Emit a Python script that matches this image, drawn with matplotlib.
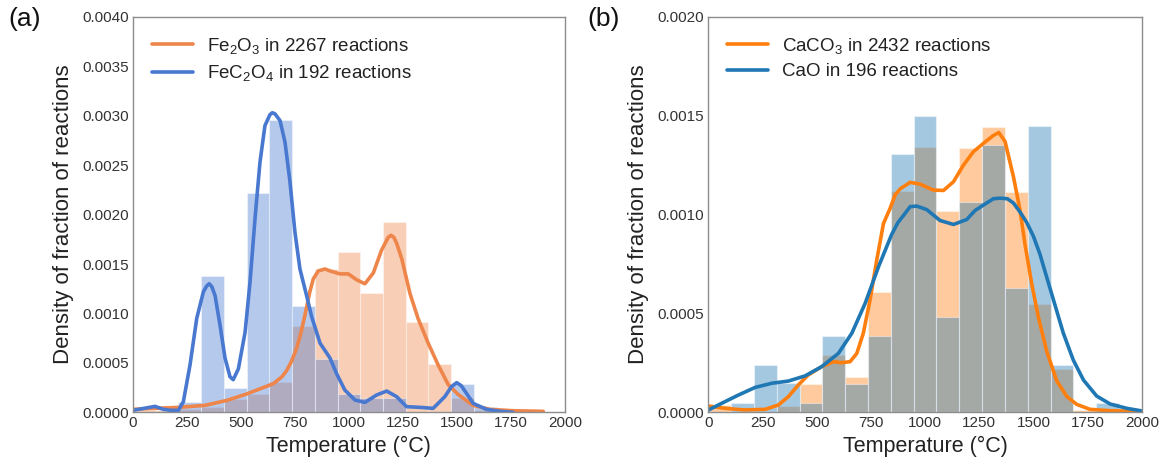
import numpy as np
import matplotlib
matplotlib.use("Agg")
import matplotlib.pyplot as plt

plt.rcParams['font.family'] = ['Liberation Sans', 'DejaVu Sans']
plt.rcParams['mathtext.fontset'] = 'custom'
plt.rcParams['mathtext.rm'] = 'Liberation Sans'
plt.rcParams['mathtext.it'] = 'Liberation Sans:italic'

# ---------------- data ----------------
bin_lo, bin_hi, n_bins = 0, 2000, 19

# Panel (a)
fe2o3_hist = [0.00002, 0.00002, 0.00003, 0.00005, 0.000134, 0.00019, 0.00031, 0.00087,
              0.00145, 0.00162, 0.00121, 0.00192, 0.00091, 0.00049, 0.00014, 0.00002,
              0.00001, 0.0, 0.0]
fec2o4_hist = [0.0, 0.0, 0.0001, 0.00138, 0.00025, 0.00222, 0.00296, 0.00108,
               0.00054, 0.00019, 0.00014, 0.00014, 0.0, 0.0, 0.00029, 0.00005,
               0.0, 0.0, 0.0]
fe2o3_kde_x = [0, 102, 210, 333, 434, 526, 603, 650, 690, 711, 735, 758, 777, 796, 819,
               835, 858, 889, 912, 958, 997, 1036, 1074, 1113, 1151, 1182, 1195, 1208,
               1221, 1245, 1283, 1320, 1367, 1413, 1460, 1506, 1550, 1576, 1653, 1761,
               1900]
fe2o3_kde_y = [0.00003, 0.00004, 0.00005, 0.00007, 0.00012, 0.000185, 0.00025, 0.00029,
               0.00036, 0.00042, 0.00052, 0.00065, 0.0008, 0.00098, 0.00122, 0.00135,
               0.00143, 0.00145, 0.00143, 0.0014, 0.0014, 0.00134, 0.0013, 0.00141,
               0.00164, 0.00177, 0.00179, 0.00177, 0.00171, 0.00155, 0.0012, 0.00095,
               0.0007, 0.00048, 0.00028, 0.00018, 0.00011, 0.00007, 0.00003, 0.000016,
               0.00001]
fec2o4_kde_x = [0, 50, 102, 140, 175, 210, 233, 264, 295, 326, 342, 353, 365, 380, 403,
                426, 449, 464, 488, 519, 542, 565, 588, 611, 634, 645, 657, 681, 704,
                727, 750, 773, 804, 827, 866, 912, 943, 981, 1028, 1074, 1128, 1175,
                1221, 1267, 1329, 1390, 1444, 1475, 1499, 1520, 1545, 1576, 1637, 1699,
                1760]
fec2o4_kde_y = [0.00002, 0.00004, 0.00006, 0.00003, 0.00002, 0.00002, 0.000107, 0.00048,
                0.00095, 0.00122, 0.00128, 0.0013, 0.00127, 0.00118, 0.00088, 0.00055,
                0.00036, 0.00033, 0.00044, 0.00081, 0.00132, 0.00196, 0.00253, 0.0029,
                0.00301, 0.00303, 0.00302, 0.00295, 0.00273, 0.00233, 0.00182, 0.00145,
                0.00118, 0.00097, 0.0007, 0.00055, 0.00039, 0.000225, 0.000124, 0.0001,
                0.000175, 0.000215, 0.000158, 0.000057, 0.00005, 0.00004, 0.000158,
                0.00026, 0.0003, 0.00027, 0.00019, 0.00009, 0.00003, 0.00001, 0.0]

# Panel (b)
caco3_hist = [0.000035, 0.0, 0.0, 0.000032, 0.000142, 0.00029, 0.000177, 0.000607,
              0.00112, 0.001343, 0.001018, 0.001336, 0.001441, 0.001115, 0.000549,
              0.000219, 0.00001, 0.0, 0.0]
cao_hist = [0.0, 0.000046, 0.00024, 0.000147, 0.000046, 0.000386, 0.000143, 0.000386,
            0.001304, 0.001498, 0.000482, 0.001065, 0.001351, 0.00063, 0.001449,
            0.000239, 0.0, 0.000046, 0.0]
caco3_kde_x = [0, 77, 166, 262, 323, 369, 415, 461, 523, 577, 615, 654, 685, 715, 746,
               777, 808, 838, 862, 885, 931, 977, 1038, 1085, 1131, 1177, 1223, 1269,
               1315, 1340, 1369, 1408, 1438, 1461, 1492, 1523, 1561, 1607, 1654, 1700,
               1761, 1854, 2000]
caco3_kde_y = [0.000032, 0.00002, 0.000012, 0.000015, 0.000037, 0.000079, 0.000138,
               0.000189, 0.000231, 0.000256, 0.000251, 0.000256, 0.000298, 0.0004,
               0.000568, 0.00077, 0.000955, 0.00103, 0.0011, 0.00113, 0.001163,
               0.001154, 0.001124, 0.001122, 0.001166, 0.00125, 0.001318, 0.00136,
               0.0014, 0.001415, 0.00137, 0.00119, 0.001023, 0.00085, 0.00065,
               0.00048, 0.00031, 0.00016, 0.00008, 0.00004, 0.000015, 0.000008,
               0.000005]
cao_kde_x = [0, 77, 138, 216, 293, 369, 446, 523, 600, 662, 723, 785, 846, 875, 900,
             931, 962, 1008, 1069, 1131, 1192, 1230, 1269, 1315, 1346, 1380, 1408, 1440,
             1469, 1500, 1530, 1546, 1592, 1638, 1684, 1731, 1792, 1854, 1931, 2000]
cao_kde_y = [0.0000116, 0.000054, 0.000087, 0.000126, 0.000147, 0.000158, 0.000184,
             0.000231, 0.000298, 0.0004, 0.00055, 0.000736, 0.0009, 0.00096, 0.000995,
             0.00104, 0.001043, 0.001025, 0.00097, 0.00095, 0.000975, 0.00102, 0.001048,
             0.00108, 0.001083, 0.00108, 0.001058, 0.00101, 0.00096, 0.00089, 0.0008,
             0.00074, 0.00057, 0.0004, 0.000264, 0.000163, 0.000082, 0.000042, 0.00002,
             0.000007]

labels_a = [r'Fe$_2$O$_3$ in 2267 reactions', r'FeC$_2$O$_4$ in 192 reactions']
labels_b = [r'CaCO$_3$ in 2432 reactions', r'CaO in 196 reactions']
xticks = [0, 250, 500, 750, 1000, 1250, 1500, 1750, 2000]

# ---------------- plot ----------------
fig = plt.figure(figsize=(11.67, 4.68), dpi=100)
ax1 = fig.add_axes([0.114, 0.119, 0.370, 0.845])
ax2 = fig.add_axes([0.607, 0.119, 0.3714, 0.845])

edges = np.linspace(bin_lo, bin_hi, n_bins + 1)
width = edges[1] - edges[0]


def panel(ax, hists, kdes, colors, labels, ymax, yticks):
    lines = []
    for h, (kx, ky), c, lab in zip(hists, kdes, colors, labels):
        ax.bar(edges[:-1], h, width=width, align='edge', color=c, alpha=0.4,
               edgecolor='white', linewidth=0.8)
        ln, = ax.plot(kx, ky, color=c, lw=2.6, label=lab,
                      solid_capstyle='round', solid_joinstyle='round')
        lines.append(ln)
    ax.set_xlim(0, 2000)
    ax.set_ylim(0, ymax)
    ax.set_xticks(xticks)
    ax.set_yticks(yticks)
    ax.set_yticklabels(['%.4f' % v for v in yticks])
    ax.tick_params(length=0, labelsize=11, colors='#333333', pad=3)
    for s in ax.spines.values():
        s.set_color('#8c8c8c')
        s.set_linewidth(1.0)
    ax.set_xlabel('Temperature (°C)', fontsize=15.5, color='#222222', labelpad=4)
    leg = ax.legend(handles=lines, loc='upper left', frameon=False, fontsize=13.5,
                    handlelength=2.2, handletextpad=0.75, labelspacing=0.4,
                    borderaxespad=0.6, bbox_to_anchor=(0.0, 1.0))
    for t in leg.get_texts():
        t.set_color('#222222')


panel(ax1, [fe2o3_hist, fec2o4_hist],
      [(fe2o3_kde_x, fe2o3_kde_y), (fec2o4_kde_x, fec2o4_kde_y)],
      ['#ee854a', '#4878d0'], labels_a, 0.004, np.arange(0, 0.00401, 0.0005))
panel(ax2, [caco3_hist, cao_hist],
      [(caco3_kde_x, caco3_kde_y), (cao_kde_x, cao_kde_y)],
      ['#ff7f0e', '#1f77b4'], labels_b, 0.002, np.arange(0, 0.00201, 0.0005))

ax1.set_ylabel('Density of fraction of reactions', fontsize=16, color='#222222', labelpad=6)
ax2.set_ylabel('Density of fraction of reactions', fontsize=16, color='#222222', labelpad=6)

fig.text(0.007, 0.985, '(a)', fontsize=19, va='top', ha='left', color='#111111')
fig.text(0.503, 0.985, '(b)', fontsize=19, va='top', ha='left', color='#111111')

fig.savefig('out.png', dpi=100)
